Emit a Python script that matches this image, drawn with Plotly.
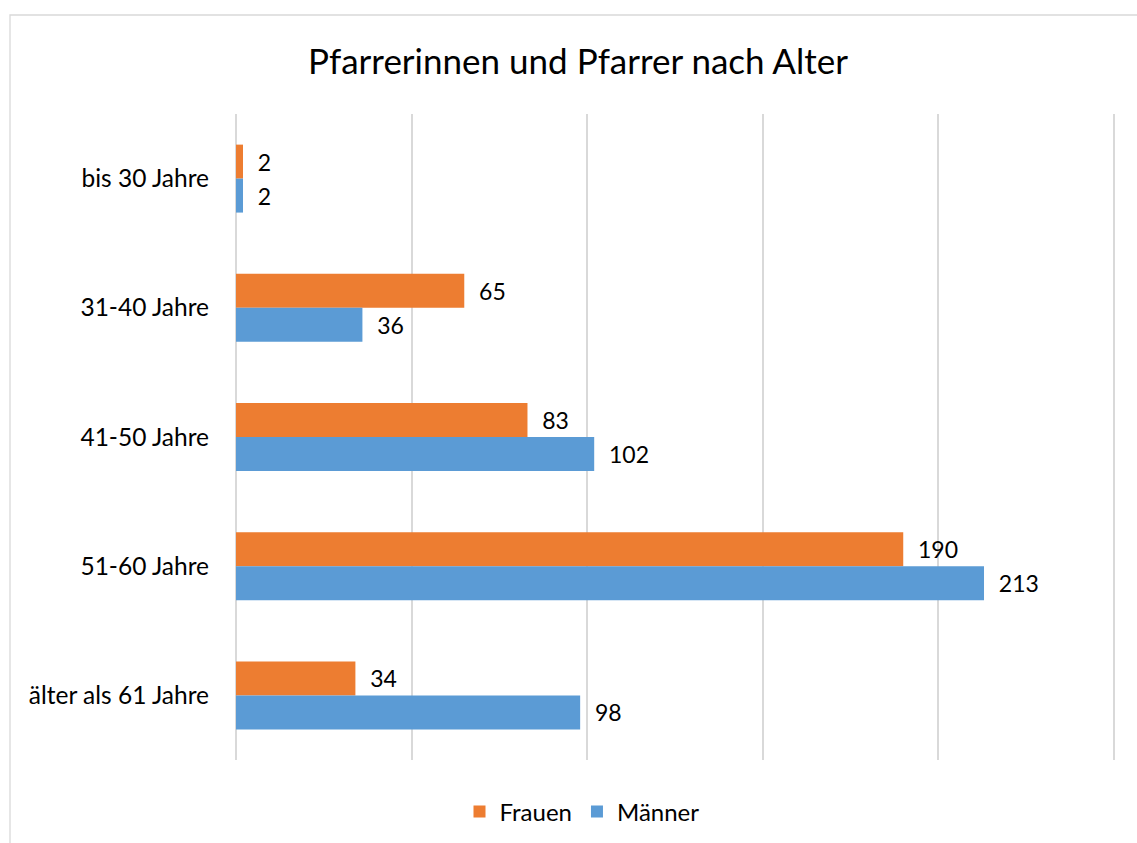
import plotly.graph_objects as go

categories = ["bis 30 Jahre", "31-40 Jahre", "41-50 Jahre", "51-60 Jahre", "älter als 61 Jahre"]
frauen = [2, 65, 83, 190, 34]
maenner = [2, 36, 102, 213, 98]
series_names = ["Frauen", "Männer"]

FONT = "Lato"
PAD = "\u00a0\u00a0"

fig = go.Figure()
fig.add_trace(go.Bar(
    name=series_names[0], y=categories, x=frauen, orientation="h",
    marker=dict(color="#ED7D31", line=dict(width=0)),
    text=[PAD + str(v) for v in frauen], textposition="outside",
    textfont=dict(family=FONT, size=23, color="#000000"), cliponaxis=False,
))
fig.add_trace(go.Bar(
    name=series_names[1], y=categories, x=maenner, orientation="h",
    marker=dict(color="#5B9BD5", line=dict(width=0)),
    text=[PAD + str(v) for v in maenner], textposition="outside",
    textfont=dict(family=FONT, size=23, color="#000000"), cliponaxis=False,
))

W, H = 1137, 843
L, R, T, B = 236, 22, 114, 83
pw, ph = W - L - R, H - T - B

def px_to_paper_x(px):
    return (px - L) / pw

def px_to_paper_y(py):
    return (H - B - py) / ph

fig.update_layout(
    width=W, height=H,
    margin=dict(l=L, r=R, t=T, b=B),
    paper_bgcolor="white", plot_bgcolor="white",
    barmode="group", bargap=0.474, bargroupgap=0,
    font=dict(family=FONT, color="#000000"),
    title=dict(text="Pfarrerinnen und Pfarrer nach Alter", x=578 / W, xanchor="center",
               y=1 - 62 / H, yanchor="middle", font=dict(family=FONT, size=35, color="#000000")),
    xaxis=dict(range=[0, 250.3], tickvals=[0, 50, 100, 150, 200, 250], showticklabels=False,
               showgrid=True, gridcolor="#D9D9D9", gridwidth=1.5, zeroline=True,
               zerolinecolor="#D9D9D9", zerolinewidth=1.5, showline=False, ticks=""),
    yaxis=dict(autorange="reversed", showgrid=False, showline=False, ticks="",
               tickfont=dict(family=FONT, size=24.5, color="#000000"), ticklabelstandoff=26),
    legend=dict(orientation="h", x=582 / W, xref="container", xanchor="center", y=1 - 812 / H,
                yref="container", yanchor="middle", font=dict(family=FONT, size=24, color="#000000"),
                itemwidth=30, traceorder="normal"),
    showlegend=True,
    shapes=[dict(type="rect", xref="paper", yref="paper",
                 x0=px_to_paper_x(10), x1=px_to_paper_x(1150),
                 y0=px_to_paper_y(860), y1=px_to_paper_y(15),
                 line=dict(color="#D9D9D9", width=1.3), fillcolor="rgba(0,0,0,0)", layer="below")],
)

fig.write_html("out.html", config={"displayModeBar": False},
               post_script="document.body.style.margin='0';")
